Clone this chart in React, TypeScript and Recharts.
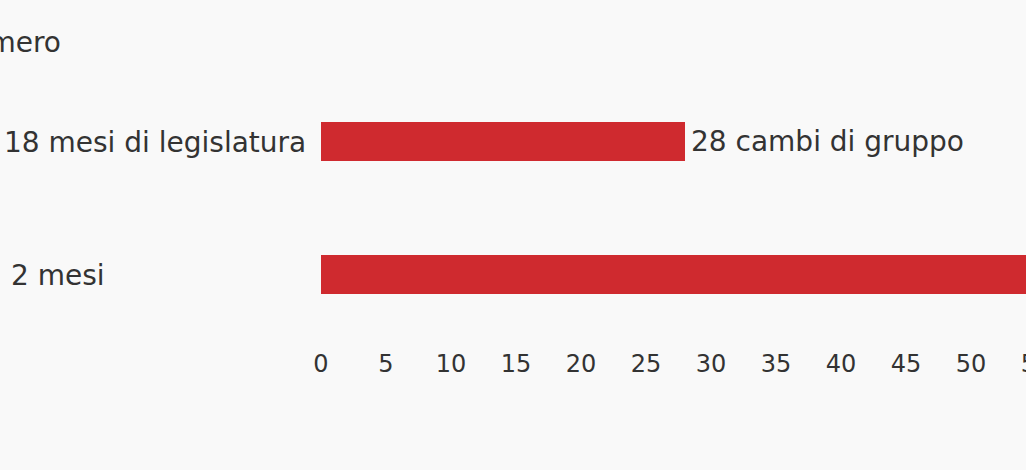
import React from "react";
import { BarChart, Bar, XAxis, YAxis, LabelList, Cell } from "recharts";

// values
const categories = ["18 mesi di legislatura", "2 mesi"];
const cambi = [28, 60];
const xTicks = [0, 5, 10, 15, 20, 25, 30, 35, 40, 45, 50, 55, 60];
const titleText = "Numero";

const data = categories.map((name, i) => ({ name, value: cambi[i] }));

const FONT = "'DejaVu Sans', Verdana, sans-serif";
const RED = "#cf2a2f";
const TEXT = "#333333";

const CategoryTick = ({ y, payload, index }: any) => (
  <text
    x={index === 1 ? 11 : 4}
    y={y}
    dy="0.38em"
    textAnchor="start"
    fill={TEXT}
    fontSize={28}
    fontFamily={FONT}
  >
    {payload.value}
  </text>
);

export default function App() {
  return (
    <div
      style={{
        position: "absolute",
        left: 0,
        top: 0,
        width: 1026,
        height: 470,
        overflow: "hidden",
        background: "#f9f9f9",
        fontFamily: FONT,
      }}
    >
      <div
        style={{
          position: "absolute",
          left: -239,
          width: 300,
          top: 26,
          textAlign: "right",
          fontSize: 28,
          lineHeight: "34px",
          color: TEXT,
        }}
      >
        {titleText}
      </div>
      <BarChart
        width={1200}
        height={470}
        data={data}
        layout="vertical"
        margin={{ top: 75, right: 99, bottom: 99, left: 0 }}
      >
        <XAxis
          type="number"
          domain={[0, 60]}
          ticks={xTicks}
          axisLine={false}
          tickLine={false}
          tickMargin={8}
          interval={0}
          height={30}
          tick={{ fill: TEXT, fontSize: 24, fontFamily: FONT }}
        />
        <YAxis
          type="category"
          dataKey="name"
          width={321}
          axisLine={false}
          tickLine={false}
          tick={<CategoryTick />}
        />
        <Bar dataKey="value" barSize={39} isAnimationActive={false}>
          {data.map((d, i) => (
            <Cell key={i} fill={RED} />
          ))}
          <LabelList
            dataKey="value"
            position="right"
            offset={6}
            formatter={(v: any) => `${v} cambi di gruppo`}
            style={{ fill: TEXT, fontSize: 28, fontFamily: FONT }}
          />
        </Bar>
      </BarChart>
    </div>
  );
}
